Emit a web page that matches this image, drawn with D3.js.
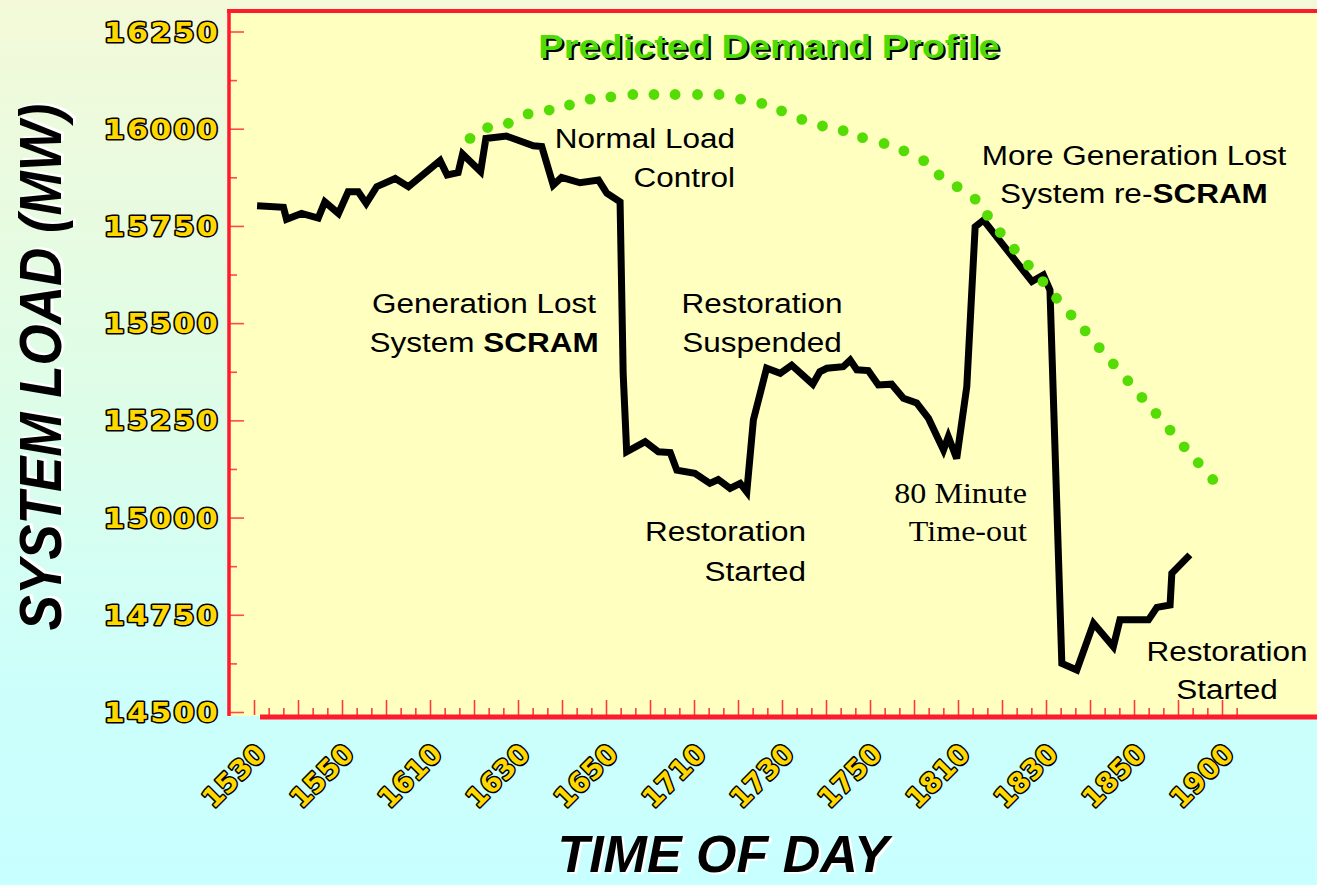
<!DOCTYPE html>
<html><head><meta charset="utf-8">
<script src="https://cdn.jsdelivr.net/npm/d3@7"></script>
<style>html,body{margin:0;padding:0;overflow:hidden;background:#fff}svg{display:block}</style>
</head><body>
<svg id="c" width="1317" height="885"></svg>
<script>
// ---- data ----
const timeLabels = ["1530","1550","1610","1630","1650","1710","1730","1750","1810","1830","1850","1900"];
const loadTicks = [14500,14750,15000,15250,15500,15750,16000,16250];
// actual system load: minutes on the axis (20 per label step) and MW
const actualMinutes = [0.7,6.7,7.4,10.8,14.6,16.1,19.2,21.4,23.7,25.5,27.9,32.1,35.1,42.3,43.9,46.4,47.4,51.5,52.7,57.4,63.5,65.4,68.0,69.9,74.1,78.3,80.2,83.2,83.9,84.7,88.9,91.9,94.6,96.1,100.2,103.6,105.5,108.2,110.5,112.0,113.5,116.5,119.6,122.2,127.0,128.6,130.2,133.9,135.5,137.0,139.6,141.9,144.9,147.6,150.6,153.3,156.7,157.8,159.7,162.0,163.9,165.8,176.8,179.4,180.9,183.6,187.0,190.8,195.3,196.8,203.3,205.2,208.2,208.6,212.7];
const actualLoad = [15802,15798,15767,15782,15770,15812,15782,15838,15838,15808,15851,15872,15851,15918,15881,15887,15935,15890,15975,15981,15956,15954,15855,15875,15861,15868,15834,15812,15371,15169,15195,15169,15167,15122,15114,15088,15098,15075,15088,15066,15251,15384,15371,15392,15343,15375,15384,15388,15405,15380,15378,15341,15343,15307,15295,15255,15174,15208,15152,15337,15748,15765,15607,15624,15585,14625,14608,14728,14668,14737,14737,14769,14775,14857,14904];
// predicted demand profile (dots)
const predictedMinutes = [49.1,53.1,57.8,62.3,67.1,71.7,76.4,81.1,86.1,90.9,95.7,100.8,105.7,110.6,115.4,119.9,124.5,129.2,133.9,138.3,143.2,147.7,152.2,155.7,159.8,163.9,166.7,169.6,172.8,176.0,179.3,182.4,185.7,188.9,192.1,195.3,198.6,201.8,205.0,208.2,211.4,214.6,217.9];
const predictedLoad = [15975,16003,16014,16038,16048,16061,16076,16082,16088,16088,16088,16088,16088,16076,16065,16046,16024,16007,15995,15977,15962,15943,15918,15881,15851,15819,15777,15733,15690,15649,15607,15564,15521,15480,15437,15395,15352,15309,15268,15225,15182,15141,15098];

// ---- drawing ----
const svg = d3.select("#c");
const W = 1317, H = 885;
const RED = "#ff1a2c";

const defs = svg.append("defs");
const g = defs.append("linearGradient").attr("id","bg").attr("x1",0).attr("y1",0).attr("x2",0).attr("y2",1);
[[0,"#f3f9d8"],[0.45,"#defde8"],[0.78,"#ccfffb"],[1,"#c8ffff"]].forEach(([o,c])=>g.append("stop").attr("offset",o).attr("stop-color",c));
svg.append("rect").attr("width",W).attr("height",H).attr("fill","url(#bg)");

const x = d3.scaleLinear().domain([0,220]).range([254,1222]);
const y = d3.scaleLinear().domain([14500,16250]).range([712,31.5]);

// plot area
svg.append("rect").attr("x",229).attr("y",11).attr("width",W-229).attr("height",705).attr("fill","#ffffc0");

// y ticks
const yMajor = d3.axisRight(y).tickValues(loadTicks).tickSize(15).tickFormat("");
const yMinor = d3.axisRight(y).tickValues(loadTicks.slice(0,-1).map(v=>v+125)).tickSize(8).tickFormat("");
[yMajor,yMinor].forEach(ax=>{
  const a = svg.append("g").attr("transform","translate(229,0)").call(ax);
  a.select(".domain").remove();
  a.selectAll("line").attr("stroke","#ff4a4a").attr("stroke-width",1.6);
});
// x ticks
const majorVals = d3.range(0,23).map(i=>i*10);
const minorVals = d3.range(0,68).filter(i=>i%3!==0).map(i=>i*10/3);
const xMajor = d3.axisTop(x).tickValues(majorVals).tickSize(15).tickFormat("");
const xMinor = d3.axisTop(x).tickValues(minorVals).tickSize(7).tickFormat("");
[xMajor,xMinor].forEach(ax=>{
  const a = svg.append("g").attr("transform","translate(0,715)").call(ax);
  a.select(".domain").remove();
  a.selectAll("line").attr("stroke","#ff3a3a").attr("stroke-width",1.6);
});

// borders
svg.append("line").attr("x1",229).attr("x2",229).attr("y1",9).attr("y2",716).attr("stroke",RED).attr("stroke-width",3.5);
svg.append("line").attr("x1",227).attr("x2",W).attr("y1",11).attr("y2",11).attr("stroke",RED).attr("stroke-width",4);
svg.append("line").attr("x1",260).attr("x2",W).attr("y1",717).attr("y2",717).attr("stroke",RED).attr("stroke-width",5);

// actual load line
const pts = actualMinutes.map((m,i)=>[m,actualLoad[i]]);
svg.append("path").datum(pts)
  .attr("d", d3.line().x(d=>x(d[0])).y(d=>y(d[1])))
  .attr("fill","none").attr("stroke","#000").attr("stroke-width",7)
  .attr("stroke-linejoin","miter").attr("stroke-miterlimit",3);

// predicted dots
svg.append("g").selectAll("circle").data(predictedMinutes.map((m,i)=>[m,predictedLoad[i]]))
  .join("circle").attr("cx",d=>x(d[0])).attr("cy",d=>y(d[1])).attr("r",5.4).attr("fill","#55dc05");

// y labels
const numFont = "'DejaVu Sans', sans-serif";
svg.append("g").selectAll("text").data(loadTicks).join("text")
  .attr("transform",v=>`translate(220,${y(v)+10}) scale(1.12,1)`)
  .attr("text-anchor","end").attr("font-family",numFont).attr("font-weight","bold")
  .attr("font-size",27).attr("letter-spacing",2)
  .attr("fill","#ffd800").attr("stroke","#000").attr("stroke-width",3).attr("paint-order","stroke")
  .attr("stroke-linejoin","round")
  .text(v=>v);

// x labels
svg.append("g").selectAll("text").data(timeLabels).join("text")
  .attr("transform",(t,i)=>`translate(${x(i*20)+14},755) rotate(-45)`)
  .attr("text-anchor","end").attr("font-family",numFont).attr("font-weight","bold")
  .attr("font-size",27).attr("letter-spacing",0.5)
  .attr("fill","#ffd800").attr("stroke","#000").attr("stroke-width",3).attr("paint-order","stroke")
  .attr("stroke-linejoin","round")
  .text(t=>t);

// title
const sans = "'Liberation Sans', Arial, sans-serif";
function shadowText(tx, str, size, fill, shadow, dx, dy, extra){
  const grp = svg.append("g").attr("transform",tx);
  [[shadow,dx,dy],[fill,0,0]].forEach(([c,ox,oy])=>{
    const t = grp.append("text").attr("x",ox).attr("y",oy).attr("text-anchor","middle")
      .attr("font-family",sans).attr("font-weight","bold").attr("font-size",size).attr("fill",c).text(str);
    if (extra) extra(t);
  });
}
shadowText("translate(769,58) scale(1.115,1)","Predicted Demand Profile",34,"#4ddc0a","#000",2,2);
// axis titles
shadowText("translate(61,367) scale(1.12,1) rotate(-90)","SYSTEM LOAD (MW)",53,"#000","#fff",2,2.5,t=>t.attr("font-style","italic"));
shadowText("translate(723,872)","TIME OF DAY",52,"#000","#fff",2.5,2,t=>t.attr("font-style","italic"));

// annotations
const notes = [
  {x:735,y:[148,187],anchor:"end",lines:[["Normal Load"],["Control"]]},
  {x:1134,y:[165,203],anchor:"middle",lines:[["More Generation Lost"],["System re-","SCRAM"]]},
  {x:484,y:[313,352],anchor:"middle",lines:[["Generation Lost"],["System ","SCRAM"]]},
  {x:762,y:[313,352],anchor:"middle",lines:[["Restoration"],["Suspended"]]},
  {x:806,y:[541,581],anchor:"end",lines:[["Restoration"],["Started"]]},
  {x:1027,y:[503,541],anchor:"end",serif:true,lines:[["80 Minute"],["Time-out"]]},
  {x:1227,y:[661,699],anchor:"middle",lines:[["Restoration"],["Started"]]}
];
notes.forEach(n=>{
  n.lines.forEach((parts,li)=>{
    const t = svg.append("text")
      .attr("transform",`translate(${n.x},${n.y[li]}) scale(1.125,1)`)
      .attr("text-anchor",n.anchor)
      .attr("font-family", n.serif ? "'Liberation Serif', 'Times New Roman', serif" : sans)
      .attr("font-size", n.serif ? 28.5 : 28).attr("fill","#000");
    parts.forEach((p,pi)=>{
      t.append("tspan").attr("font-weight", pi===1 ? "bold" : "normal").text(p);
    });
  });
});
</script>
</body></html>
